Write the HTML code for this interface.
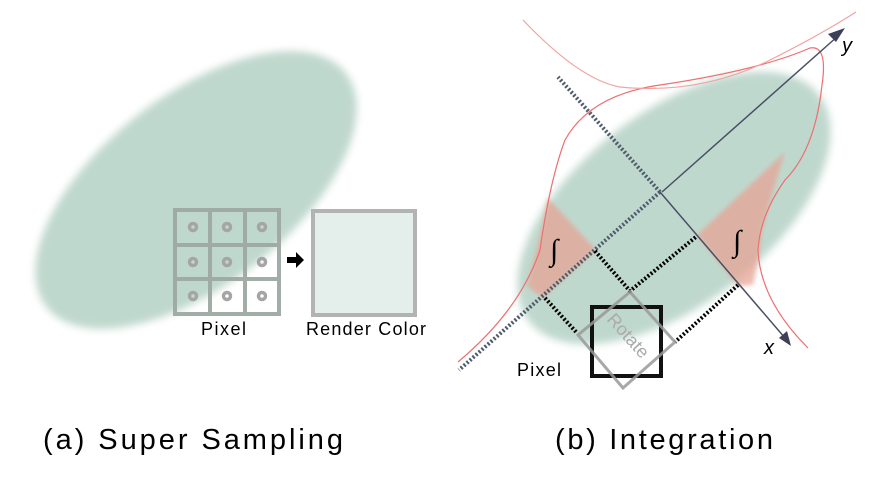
<!DOCTYPE html>
<html><head><style>body{margin:0;background:#fff}</style></head><body>
<svg width="879" height="473" viewBox="0 0 879 473" xmlns="http://www.w3.org/2000/svg" font-family="Liberation Sans, sans-serif">
<defs>
<filter id="b" x="-20%" y="-20%" width="140%" height="140%"><feGaussianBlur stdDeviation="4"/></filter>
<filter id="b2"><feGaussianBlur stdDeviation="2"/></filter>
</defs>
<ellipse cx="196" cy="190" rx="190" ry="95" fill="#bfd8ce" transform="rotate(-38 196 190)" filter="url(#b)"/>
<ellipse cx="674" cy="208" rx="184" ry="96" fill="#bfd8ce" transform="rotate(-38 674 208)" filter="url(#b)"/>
<g fill="none" stroke="#9fa9a4" stroke-width="4" opacity="0.95">
<rect x="175" y="210" width="104" height="104"/>
<line x1="210" y1="210" x2="210" y2="314"/><line x1="245" y1="210" x2="245" y2="314"/>
<line x1="175" y1="245" x2="279" y2="245"/><line x1="175" y1="279" x2="279" y2="279"/>
</g>
<g fill="none" stroke="#a5a5a5" stroke-width="3.5">
<circle cx="193" cy="227" r="3.5"/><circle cx="227" cy="227" r="3.5"/><circle cx="262" cy="227" r="3.5"/>
<circle cx="193" cy="262" r="3.5"/><circle cx="227" cy="262" r="3.5"/><circle cx="262" cy="262" r="3.5"/>
<circle cx="193" cy="296" r="3.5"/><circle cx="227" cy="296" r="3.5"/><circle cx="262" cy="296" r="3.5"/>
</g>
<path d="M287 257h9v-5l8 8-8 8v-5h-9z" fill="#000"/>
<rect x="313" y="211" width="102" height="104" fill="#e4eeea" stroke="#b3b3b3" stroke-width="4"/>
<text x="201" y="335" font-size="18" textLength="45">Pixel</text>
<text x="306" y="335" font-size="18" textLength="120">Render Color</text>
<path d="M548 198 L596 250 L543 298 L527 286 Q540 240 548 198Z" fill="#e9a090" opacity="0.7" filter="url(#b2)"/>
<path d="M697 235 L785 152 Q770 200 762 230 Q758 265 753 285 L738 286Z" fill="#e9a090" opacity="0.7" filter="url(#b2)"/>
<path d="M458 362 Q520 310 540 250 Q550 180 565 140 Q590 95 660 85 Q760 70 810 48 Q828 45 822 85 Q815 150 785 180 Q760 215 758 250 Q760 300 808 348" fill="none" stroke="#ec7070" stroke-width="1.2"/>
<path d="M523 20 Q580 80 620 87 Q700 95 770 60 Q820 35 856 12" fill="none" stroke="#f2a3a3" stroke-width="1.2"/>
<line x1="662" y1="192" x2="838" y2="36" stroke="#4a4f63" stroke-width="1.5"/>
<path d="M845 28 L828 34 L836 42Z" fill="#3e4058"/>
<line x1="660" y1="192" x2="785" y2="338" stroke="#4a4f63" stroke-width="1.5"/>
<path d="M791 346 L779 338 L787 331Z" fill="#3e4058"/>
<line x1="660" y1="192" x2="459" y2="370" stroke="#4f5b6b" stroke-width="4" stroke-dasharray="2 2"/>
<line x1="660" y1="192" x2="558" y2="77" stroke="#4f5b6b" stroke-width="4" stroke-dasharray="2 2"/>
<g stroke="#000" stroke-width="4" stroke-dasharray="2 2" fill="none">
<polyline points="595,251 630,291 697,236"/>
<line x1="545" y1="298" x2="577" y2="333"/>
<line x1="738" y1="285" x2="675" y2="342"/>
</g>
<rect x="592" y="307" width="69" height="69" fill="none" stroke="#111" stroke-width="4"/>
<path d="M630 292 L675 342 L623 388 L578 335Z" fill="none" stroke="#999" stroke-width="3" opacity="0.85"/>
<text x="0" y="0" font-size="18" fill="#aaa" transform="translate(606 320) rotate(48)">Rotate</text>
<text x="517" y="376" font-size="18" textLength="44">Pixel</text>
<text x="550" y="260" font-size="30" font-family="Liberation Serif, serif">∫</text>
<text x="733" y="251" font-size="30" font-family="Liberation Serif, serif">∫</text>
<text x="842" y="52" font-size="20" font-style="italic">y</text>
<text x="764" y="354" font-size="20" font-style="italic">x</text>
<text x="43" y="449" font-size="29" textLength="300">(a) Super Sampling</text>
<text x="555" y="449" font-size="29" textLength="218">(b) Integration</text>
</svg>
</body></html>
